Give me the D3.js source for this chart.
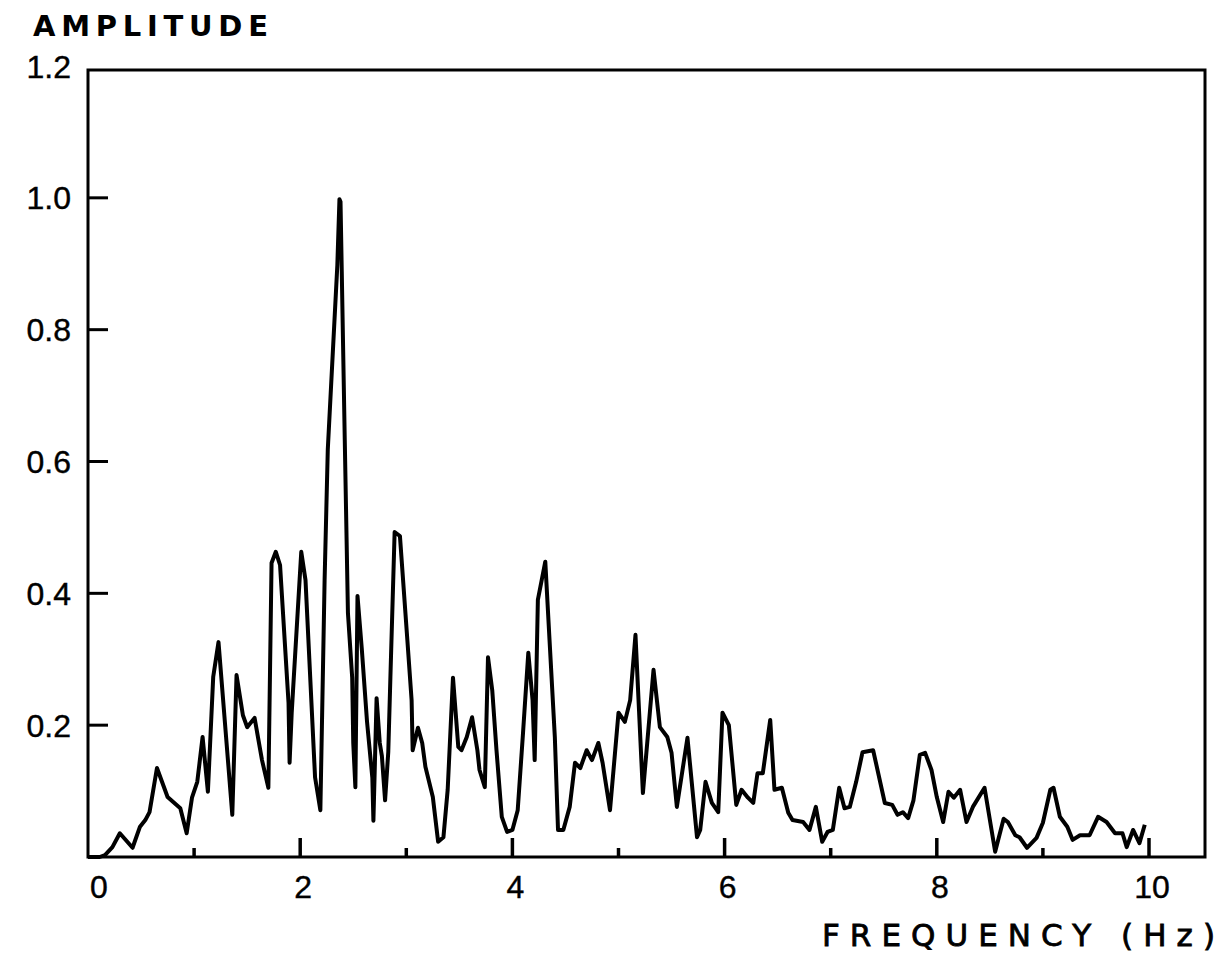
<!DOCTYPE html>
<html>
<head>
<meta charset="utf-8">
<script src="https://cdn.jsdelivr.net/npm/d3@7"></script>
<style>
  body { margin: 0; background: #fff; }
</style>
</head>
<body>
<script>
////////// datos //////////
var freq = [0, 0.11, 0.16, 0.23, 0.30, 0.42, 0.49, 0.54, 0.58, 0.65, 0.75, 0.87, 0.93, 0.98, 1.03, 1.08, 1.13, 1.18, 1.23,
  1.36, 1.40, 1.46, 1.50, 1.57, 1.64, 1.70, 1.73, 1.77, 1.81, 1.89, 1.90, 1.92, 2.01, 2.05, 2.14, 2.19, 2.23, 2.26,
  2.35, 2.37, 2.38, 2.42, 2.45, 2.49, 2.50, 2.52, 2.54, 2.58, 2.63, 2.68, 2.69, 2.72, 2.75, 2.77, 2.80, 2.83, 2.85,
  2.89, 2.94, 3.01, 3.05, 3.06, 3.11, 3.15, 3.18, 3.25, 3.30, 3.35, 3.39, 3.44, 3.49, 3.52, 3.57, 3.62, 3.67, 3.69,
  3.74, 3.77, 3.81, 3.85, 3.90, 3.95, 4.00, 4.05, 4.10, 4.15, 4.19, 4.21, 4.24, 4.31, 4.35, 4.40, 4.43, 4.48, 4.54,
  4.59, 4.64, 4.70, 4.75, 4.81, 4.85, 4.92, 5.00, 5.06, 5.11, 5.16, 5.23, 5.33, 5.39, 5.46, 5.50, 5.55, 5.65, 5.74,
  5.77, 5.82, 5.88, 5.94, 5.98, 6.04, 6.11, 6.16, 6.22, 6.27, 6.31, 6.36, 6.43, 6.47, 6.54, 6.60, 6.64, 6.74, 6.80,
  6.86, 6.92, 6.97, 7.02, 7.08, 7.13, 7.18, 7.24, 7.30, 7.40, 7.51, 7.58, 7.63, 7.68, 7.73, 7.78, 7.84, 7.89, 7.95,
  8.00, 8.06, 8.11, 8.16, 8.22, 8.28, 8.34, 8.45, 8.55, 8.63, 8.67, 8.74, 8.78, 8.85, 8.94, 9.00, 9.07, 9.10, 9.16,
  9.23, 9.28, 9.35, 9.44, 9.52, 9.60, 9.68, 9.75, 9.79, 9.85, 9.91, 9.96];

var amp = [0, 0, 0.003, 0.015, 0.036, 0.014, 0.046, 0.056, 0.068, 0.135, 0.091, 0.074, 0.036, 0.090, 0.114, 0.182, 0.099, 0.273, 0.326,
  0.064, 0.276, 0.215, 0.197, 0.211, 0.147, 0.105, 0.446, 0.463, 0.443, 0.234, 0.143, 0.219, 0.463, 0.420, 0.121, 0.071, 0.420, 0.618,
  0.898, 0.998, 0.994, 0.633, 0.370, 0.272, 0.173, 0.106, 0.396, 0.317, 0.205, 0.120, 0.055, 0.241, 0.173, 0.153, 0.086, 0.159, 0.272,
  0.493, 0.487, 0.329, 0.238, 0.162, 0.196, 0.173, 0.137, 0.091, 0.023, 0.030, 0.102, 0.272, 0.167, 0.162, 0.182, 0.212, 0.162, 0.132,
  0.106, 0.303, 0.253, 0.162, 0.061, 0.038, 0.041, 0.071, 0.188, 0.310, 0.238, 0.147, 0.390, 0.448, 0.329, 0.182, 0.041, 0.041, 0.076,
  0.143, 0.135, 0.162, 0.147, 0.173, 0.143, 0.071, 0.219, 0.205, 0.238, 0.337, 0.097, 0.284, 0.197, 0.182, 0.158, 0.076, 0.181, 0.030,
  0.041, 0.114, 0.082, 0.068, 0.219, 0.200, 0.079, 0.102, 0.090, 0.082, 0.127, 0.127, 0.208, 0.102, 0.105, 0.067, 0.056, 0.053, 0.041,
  0.076, 0.023, 0.038, 0.041, 0.105, 0.074, 0.076, 0.114, 0.159, 0.162, 0.082, 0.079, 0.064, 0.068, 0.059, 0.086, 0.155, 0.158, 0.132,
  0.091, 0.053, 0.099, 0.090, 0.102, 0.053, 0.076, 0.105, 0.008, 0.058, 0.053, 0.033, 0.030, 0.014, 0.029, 0.052, 0.102, 0.105, 0.061,
  0.046, 0.026, 0.033, 0.033, 0.061, 0.053, 0.036, 0.036, 0.015, 0.041, 0.021, 0.049];

var xTicks = [1, 2, 3, 4, 5, 6, 7, 8, 9, 10];
var xLabels = [0, 2, 4, 6, 8, 10];
var yTicks = [0.2, 0.4, 0.6, 0.8, 1.0];
var yLabels = [0.2, 0.4, 0.6, 0.8, 1.0, 1.2];

var titleY = "AMPLITUDE";
var titleX = "FREQUENCY (Hz)";

////////// medidas (ojo: "top" es de window, no usar) //////////
var width = 1224, height = 956;
var mIzq = 88, mDer = 1205, mArriba = 70, mAbajo = 857;

var x = d3.scaleLinear().domain([0, 10]).range([mIzq, 1149]);
var y = d3.scaleLinear().domain([0, 1.2]).range([mAbajo, 66]);

var svg = d3.select("body").append("svg")
  .attr("width", width)
  .attr("height", height)
  .attr("font-family", "'Liberation Sans', Arial, sans-serif");

////////// el espectro //////////
var puntos = freq.map((f, i) => [f, amp[i]]);

var linea = d3.line()
  .x(d => x(d[0]))
  .y(d => y(d[1]));

svg.append("path")
  .datum(puntos)
  .attr("fill", "none")
  .attr("stroke", "#000")
  .attr("stroke-width", 4)
  .attr("stroke-linejoin", "round")
  .attr("d", linea);

////////// marco //////////
svg.append("rect")
  .attr("x", mIzq)
  .attr("y", mArriba)
  .attr("width", mDer - mIzq)
  .attr("height", mAbajo - mArriba)
  .attr("fill", "none")
  .attr("stroke", "#000")
  .attr("stroke-width", 3);

////////// ticks hacia adentro //////////
svg.append("g")
  .selectAll("line")
  .data(xTicks)
  .join("line")
    .attr("x1", d => x(d))
    .attr("x2", d => x(d))
    .attr("y1", mAbajo)
    .attr("y2", d => mAbajo - (d % 2 === 0 ? 19 : 9))
    .attr("stroke", "#000")
    .attr("stroke-width", 3.5);

svg.append("g")
  .selectAll("line")
  .data(yTicks)
  .join("line")
    .attr("x1", mIzq)
    .attr("x2", mIzq + 20)
    .attr("y1", d => y(d))
    .attr("y2", d => y(d))
    .attr("stroke", "#000")
    .attr("stroke-width", 3);

////////// etiquetas //////////
svg.append("g")
  .attr("text-anchor", "middle")
  .attr("font-size", 32)
  .selectAll("text")
  .data(xLabels)
  .join("text")
    .attr("x", d => x(d) + (d === 0 ? 11 : 3))
    .attr("y", 898)
    .attr("stroke", "#000")
    .attr("stroke-width", 0.4)
    .text(d => d);

svg.append("g")
  .attr("text-anchor", "end")
  .attr("font-size", 32)
  .selectAll("text")
  .data(yLabels)
  .join("text")
    .attr("x", 71)
    .attr("y", d => y(d))
    .attr("dy", "0.36em")
    .attr("stroke", "#000")
    .attr("stroke-width", 0.4)
    .text(d => d3.format(".1f")(d));

svg.append("text")
  .attr("x", 33)
  .attr("y", 36)
  .attr("font-family", "'DejaVu Sans', sans-serif")
  .attr("font-size", 29)
  .attr("font-weight", "bold")
  .attr("textLength", 235)
  .attr("lengthAdjust", "spacing")
  .text(titleY);

svg.append("text")
  .attr("x", 822)
  .attr("y", 946)
  .attr("font-family", "'DejaVu Sans', sans-serif")
  .attr("font-size", 31)
  .attr("stroke", "#000")
  .attr("stroke-width", 0.8)
  .attr("textLength", 393)
  .attr("lengthAdjust", "spacing")
  .text(titleX);
</script>
</body>
</html>
